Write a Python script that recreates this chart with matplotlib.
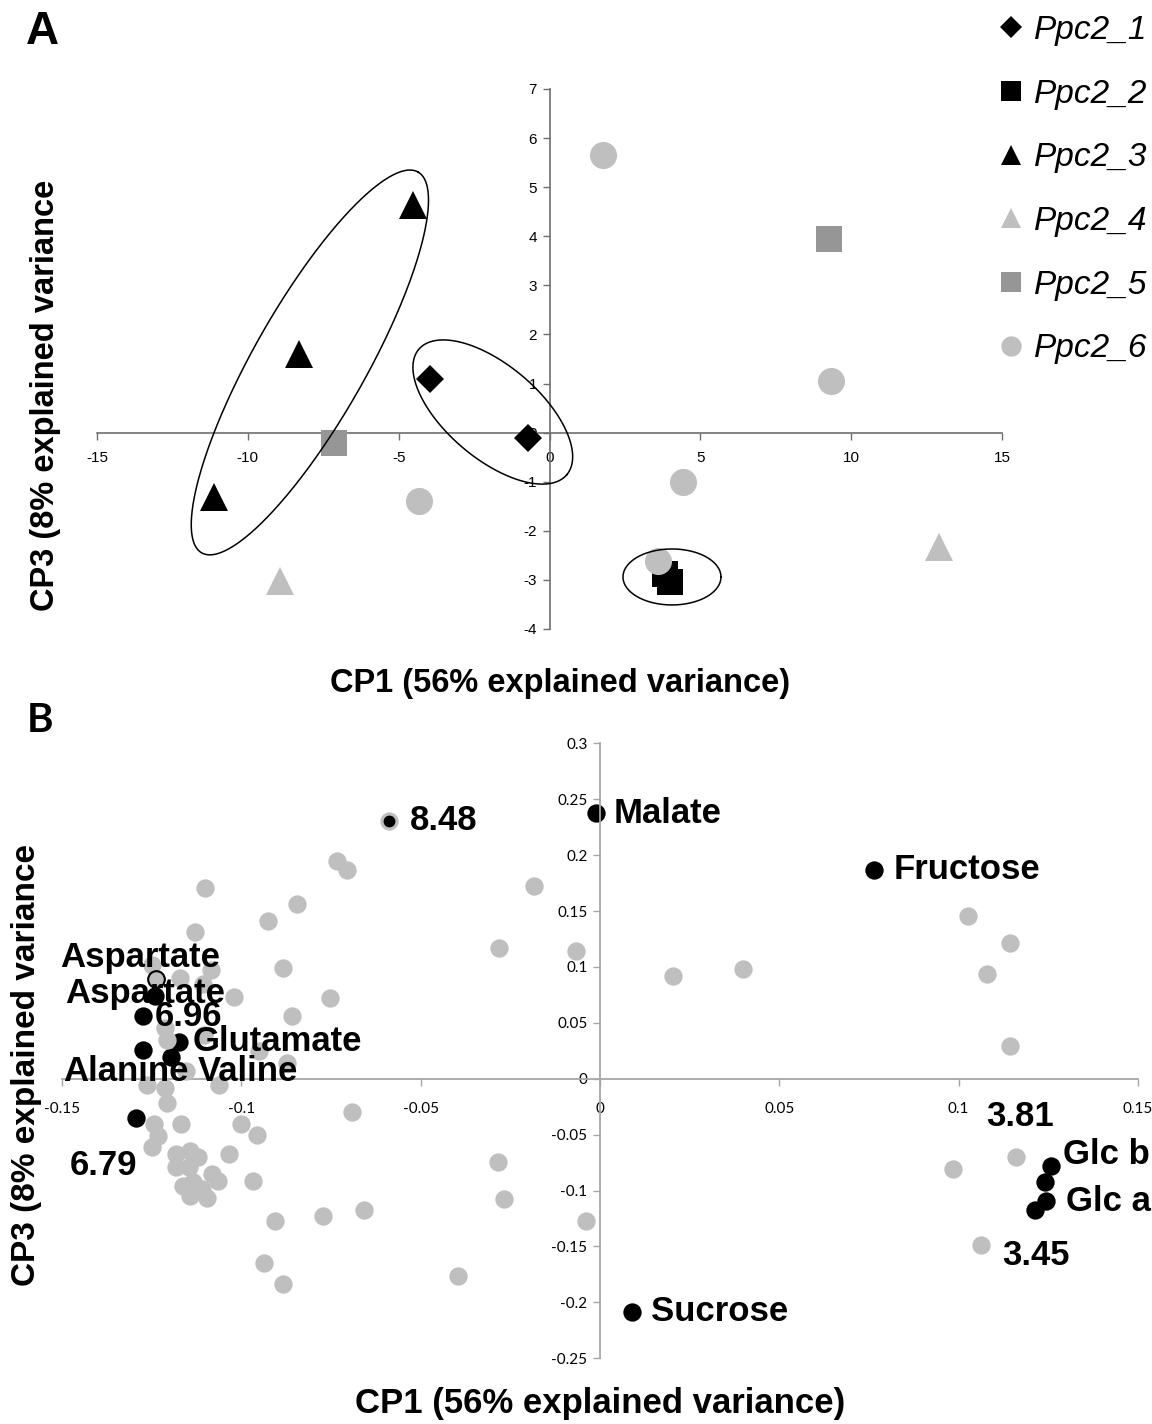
import numpy as np
import matplotlib
matplotlib.use('Agg')
import matplotlib.pyplot as plt

plt.rcParams['font.family'] = ['Liberation Sans', 'DejaVu Sans']
plt.rcParams['axes.unicode_minus'] = False

# ---------------- Panel A data (scores) ----------------
groups = ['Ppc2_1', 'Ppc2_2', 'Ppc2_3', 'Ppc2_4', 'Ppc2_5', 'Ppc2_6']
ppc1_x = [-3.96, -0.71]
ppc1_y = [1.10, -0.10]
ppc2_x = [3.82, 3.99]
ppc2_y = [-2.88, -3.04]
ppc3_x = [-4.52, -8.29, -11.11]
ppc3_y = [4.63, 1.61, -1.32]
ppc4_x = [-8.95, 12.92]
ppc4_y = [-3.03, -2.33]
ppc5_x = [-7.14, 9.27]
ppc5_y = [-0.22, 3.94]
ppc6_x = [1.79, 9.32, 4.43, -4.33, 3.59]
ppc6_y = [5.66, 1.05, -1.01, -1.39, -2.61]

a_xticks = [-15, -10, -5, 0, 5, 10, 15]
a_yticks = [-4, -3, -2, -1, 0, 1, 2, 3, 4, 5, 6, 7]

# ---------------- Panel B data (loadings) ----------------
grey_x = [-0.0587, -0.0732, -0.0706, -0.1100, -0.0183, -0.0846, -0.0925, -0.1130,
          -0.0281, -0.0068, -0.1248, -0.0885, -0.1085, -0.1172, -0.1107, -0.1021,
          -0.0754, -0.0860, -0.1213, -0.1208, -0.1105, -0.0950, -0.0873, -0.1153,
          -0.1063, -0.1264, -0.1213, -0.1206, -0.0692, -0.1243, -0.1167, -0.1002,
          -0.0957, -0.1233, -0.1250, -0.1035, -0.1181, -0.1144, -0.1120, -0.1181,
          -0.1146, -0.1081, -0.1065, -0.1164, -0.1134, -0.1144, -0.1097, -0.1111,
          -0.0968, -0.0906, -0.0773, -0.0658, -0.0936, -0.0883, -0.0395, -0.0283,
          -0.0268, -0.0040, 0.0203, 0.0400, 0.1026, 0.1142, 0.1079, 0.1142,
          0.1160, 0.0984, 0.1063]
grey_y = [0.2308, 0.1947, 0.1866, 0.1706, 0.1724, 0.1565, 0.1414, 0.1312,
          0.1168, 0.1146, 0.1015, 0.0992, 0.0973, 0.0897, 0.0843, 0.0734,
          0.0722, 0.0560, 0.0453, 0.0348, 0.0393, 0.0250, 0.0145, 0.0069,
          -0.0060, -0.0055, -0.0087, -0.0215, -0.0297, -0.0402, -0.0408, -0.0402,
          -0.0500, -0.0510, -0.0608, -0.0670, -0.0672, -0.0642, -0.0702, -0.0792,
          -0.0792, -0.0852, -0.0918, -0.0963, -0.0927, -0.1047, -0.1062, -0.0987,
          -0.0918, -0.1275, -0.1224, -0.1170, -0.1650, -0.1835, -0.1761, -0.0741,
          -0.1077, -0.1268, 0.0918, 0.0984, 0.1452, 0.1212, 0.0933, 0.0294,
          -0.0702, -0.0807, -0.1491]

black_names = ['Malate', 'Fructose', 'Aspartate', '6.96', 'Glutamate',
               'Alanine', 'Valine', '6.79', 'Glc b', '', 'Glc a', '', 'Sucrose']
black_x = [-0.0012, 0.0764, -0.1241, -0.1273, -0.1174, -0.1273, -0.1196, -0.1294,
           0.1257, 0.1241, 0.1244, 0.1213, 0.0088]
black_y = [0.2373, 0.1870, 0.0738, 0.0558, 0.0333, 0.0258, 0.0198, -0.0351,
           -0.0783, -0.0927, -0.1092, -0.1176, -0.2082]
ring_name = ['Aspartate']
ring_x = [-0.1239]
ring_y = [0.0888]
small_name = ['8.48']
small_x = [-0.0587]
small_y = [0.2308]
grey_label_names = ['3.81', '3.45']
grey_label_x = [0.1160, 0.1063]
grey_label_y = [-0.0702, -0.1491]

b_xticks = [-0.15, -0.1, -0.05, 0, 0.05, 0.1, 0.15]
b_xlabels = ['-0.15', '-0.1', '-0.05', '0', '0.05', '0.1', '0.15']
b_yticks = [-0.25, -0.2, -0.15, -0.1, -0.05, 0, 0.05, 0.1, 0.15, 0.2, 0.25, 0.3]
b_ylabels = ['-0.25', '-0.2', '-0.15', '-0.1', '-0.05', '0', '0.05', '0.1', '0.15',
             '0.2', '0.25', '0.3']

W, H = 1152, 1424
fig = plt.figure(figsize=(W / 100, H / 100), dpi=100)
fig.patch.set_facecolor('white')


def axes_px(x0, x1, ytop, ybot):
    return [x0 / W, 1 - ybot / H, (x1 - x0) / W, (ybot - ytop) / H]


LIGHT = '#BFBFBF'
MID = '#969696'

# ================= Panel A =================
axA = fig.add_axes(axes_px(97, 1002, 89, 629))
axA.set_xlim(-15, 15)
axA.set_ylim(-4, 7)
axA.patch.set_alpha(0)
for s in ['top', 'right']:
    axA.spines[s].set_visible(False)
axA.spines['left'].set_position(('data', 0))
axA.spines['bottom'].set_position(('data', 0))
for s in ['left', 'bottom']:
    axA.spines[s].set_color('#6E6E6E')
    axA.spines[s].set_linewidth(1.2)
axA.set_xticks(a_xticks)
axA.set_yticks(a_yticks)
axA.tick_params(axis='both', colors='#6E6E6E', labelcolor='black', labelsize=11,
                length=5, width=1.0, direction='out')
axA.tick_params(axis='x', pad=8)
axA.tick_params(axis='y', pad=4)

hA = []
hA.append(axA.plot(ppc1_x, ppc1_y, 'D', color='black', ms=14.5, mew=0, zorder=3)[0])
hA.append(axA.plot(ppc2_x, ppc2_y, 's', color='black', ms=19, mew=0, zorder=3)[0])
hA.append(axA.plot(ppc3_x, ppc3_y, '^', color='black', ms=20, mew=0, zorder=3)[0])
hA.append(axA.plot(ppc4_x, ppc4_y, '^', color=LIGHT, ms=20, mew=0, zorder=3)[0])
hA.append(axA.plot(ppc5_x, ppc5_y, 's', color=MID, ms=19, mew=0, zorder=3)[0])
hA.append(axA.plot(ppc6_x, ppc6_y, 'o', color=LIGHT, ms=19.5, mew=0, zorder=3)[0])


def draw_ellipse(ax, cx, cy, a_px, b_px, ang):
    c = ax.transData.transform((cx, cy))
    t = np.linspace(0, 2 * np.pi, 400)
    th = np.radians(ang)
    px = c[0] + a_px * np.cos(t) * np.cos(th) - b_px * np.sin(t) * np.sin(th)
    py = c[1] + a_px * np.cos(t) * np.sin(th) + b_px * np.sin(t) * np.cos(th)
    pts = ax.transData.inverted().transform(np.column_stack([px, py]))
    ax.plot(pts[:, 0], pts[:, 1], color='black', lw=1.1, zorder=6, clip_on=False)


# group outlines around the Ppc2_3, Ppc2_1 and Ppc2_2 clusters
draw_ellipse(axA, np.mean(ppc3_x[:3]) + 0.03, np.mean(ppc3_y[:3]) - 0.21, 219, 56, 60.4)
draw_ellipse(axA, np.mean(ppc1_x) + 0.455, np.mean(ppc1_y) - 0.08, 97, 46.6, -40.3)
draw_ellipse(axA, np.mean(ppc2_x) + 0.155, np.mean(ppc2_y) + 0.02, 49, 28, 0)

fig.legend(hA, groups, loc='upper left', bbox_to_anchor=(996 / W, 1 - 15 / H),
           frameon=False, prop=dict(style='italic', size=24), markerscale=0.75,
           handlelength=0.92, handletextpad=0.22, labelspacing=0.98,
           borderpad=0, borderaxespad=0)

fig.text(560 / W, 1 - 683 / H, 'CP1 (56% explained variance)', ha='center', va='center',
         fontsize=23.5, fontweight='bold')
fig.text(46 / W, 1 - 395 / H, 'CP3 (8% explained variance', ha='center', va='center',
         fontsize=23.5, fontweight='bold', rotation=90)
fig.text(42 / W, 1 - 32 / H, 'A', ha='center', va='center', fontsize=33, fontweight='bold')

# ================= Panel B =================
axB = fig.add_axes(axes_px(62, 1138, 743.3, 1358.3))
axB.set_xlim(-0.15, 0.15)
axB.set_ylim(-0.25, 0.3)
axB.patch.set_alpha(0)
for s in ['top', 'right']:
    axB.spines[s].set_visible(False)
axB.spines['left'].set_position(('data', 0))
axB.spines['bottom'].set_position(('data', 0))
for s in ['left', 'bottom']:
    axB.spines[s].set_color('#A6A6A6')
    axB.spines[s].set_linewidth(1.3)
axB.set_xticks(b_xticks)
axB.set_xticklabels(b_xlabels)
axB.set_yticks(b_yticks)
axB.set_yticklabels(b_ylabels)
axB.tick_params(axis='both', colors='#A6A6A6', labelcolor='black', labelsize=11,
                length=5, width=1.0, direction='out')
axB.tick_params(axis='x', pad=12)
axB.tick_params(axis='y', pad=4)
for lab in axB.get_xticklabels() + axB.get_yticklabels():
    lab.set_fontfamily(['Lato', 'DejaVu Sans'])

axB.plot(black_x, black_y, 'o', color='black', ms=13.2, mew=0, zorder=2)
axB.plot(grey_x, grey_y, 'o', color=LIGHT, ms=13.2, mew=0, zorder=3)
axB.plot(ring_x, ring_y, 'o', mfc=LIGHT, mec='black', ms=12, mew=1.5, zorder=4)
axB.plot(small_x, small_y, 'o', color='black', ms=8.5, mew=0, zorder=4)

lab_kw = dict(textcoords='offset points', fontsize=25, fontweight='bold',
              va='center', zorder=7)
# offsets in pixels (dx right, dy down) and alignment for each label
b_offsets = {
    'Malate': (18, 0, 'left'), 'Fructose': (20, 0, 'left'), 'Aspartate': (-10, -3, 'center'),
    '6.96': (11.5, 0, 'left'), 'Glutamate': (13.5, 0, 'left'), 'Alanine': (-18, 22, 'center'),
    'Valine': (27, 15, 'left'), '6.79': (-32.5, 47, 'center'),
    'Glc b': (12.5, -12, 'left'), 'Glc a': (19.5, 1, 'left'), 'Sucrose': (19, 0, 'left'),
    '8.48': (20, 0, 'left'), '3.81': (-30, -41, 'left'), '3.45': (21, 10, 'left'),
    'ring': (-15, -22, 'center'),
}


def put_label(name, x, y, key=None):
    dx, dy, ha = b_offsets[key or name]
    axB.annotate(name, (x, y), xytext=(dx * 0.72, -dy * 0.72), ha=ha, **lab_kw)


for n, x, y in zip(black_names, black_x, black_y):
    if n:
        put_label(n, x, y)
for n, x, y in zip(ring_name, ring_x, ring_y):
    put_label(n, x, y, key='ring')
for n, x, y in zip(small_name, small_x, small_y):
    put_label(n, x, y)
for n, x, y in zip(grey_label_names, grey_label_x, grey_label_y):
    put_label(n, x, y)

fig.text(600 / W, 1 - 1403 / H, 'CP1 (56% explained variance)', ha='center', va='center',
         fontsize=25, fontweight='bold')
fig.text(27 / W, 1 - 1065 / H, 'CP3 (8% explained variance', ha='center', va='center',
         fontsize=24, fontweight='bold', rotation=90)
fig.text(40 / W, 1 - 720 / H, 'B', ha='center', va='center', fontsize=29, fontweight='bold',
         family=['Lato', 'DejaVu Sans'])

fig.savefig('out.png', dpi=100, facecolor='white')
